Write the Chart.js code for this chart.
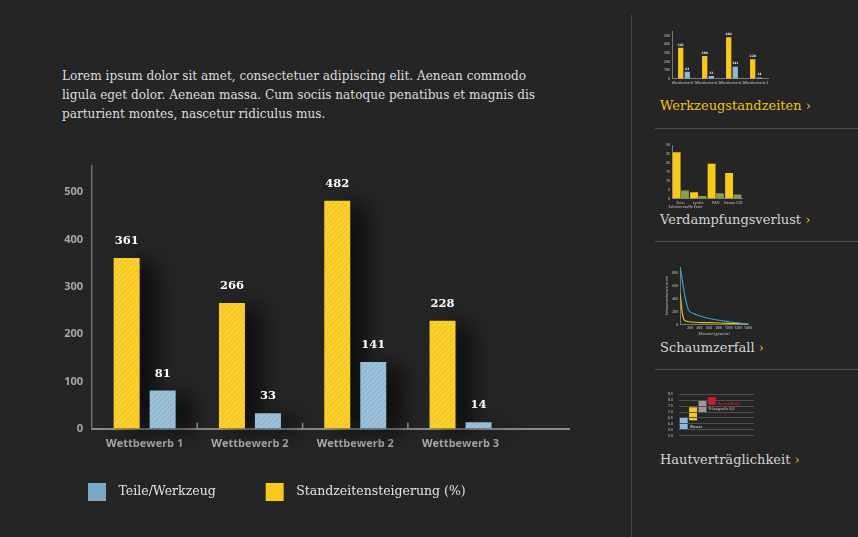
<!DOCTYPE html>
<html>
<head>
<meta charset="utf-8">
<script src="https://cdn.jsdelivr.net/npm/chart.js@4.4.0/dist/chart.umd.min.js"></script>
<style>
body { margin: 0; background: #252525; width: 858px; height: 537px; overflow: hidden; position: relative; font-family: "DejaVu Serif", serif; color: #dcdcdc; }
#intro { position: absolute; left: 62px; top: 67px; width: 520px; margin: 0; font-size: 12.1px; line-height: 19px; }
#main { position: absolute; left: 34px; top: 150px; width: 560px; height: 361px; }
.side { position: absolute; left: 631px; top: 15px; bottom: 0; border-left: 1px solid #474747; }
.sep { position: absolute; left: 655px; width: 203px; border-top: 1px solid #4f4f4f; }
.ttl { position: absolute; left: 660px; font-size: 13px; color: #d4d4d4; white-space: nowrap; }
.ttl b { color: #f0c419; font-weight: normal; }
.ttl.on { color: #ecc41c; }
.thumb { position: absolute; }
</style>
</head>
<body>
<p id="intro">Lorem ipsum dolor sit amet, consectetuer adipiscing elit. Aenean commodo<br>ligula eget dolor. Aenean massa. Cum sociis natoque penatibus et magnis dis<br>parturient montes, nascetur ridiculus mus.</p>
<div id="main"><canvas id="chartMain"></canvas></div>

<div class="side"></div>
<div class="thumb" style="left:660px;top:25px;width:116px;height:62px"><canvas id="thumb1"></canvas></div>
<div class="ttl on" style="top:98px">Werkzeugstandzeiten <b>›</b></div>
<div class="sep" style="top:128px"></div>
<div class="thumb" style="left:662px;top:141px;width:92px;height:70px"><canvas id="thumb2"></canvas></div>
<div class="ttl" style="top:212px">Verdampfungsverlust <b>›</b></div>
<div class="sep" style="top:241px"></div>
<div class="thumb" style="left:664px;top:259px;width:90px;height:78px"><canvas id="thumb3"></canvas></div>
<div class="ttl" style="top:340px">Schaumzerfall <b>›</b></div>
<div class="sep" style="top:369px"></div>
<div class="thumb" style="left:660px;top:386px;width:96px;height:58px"><canvas id="thumb4"></canvas></div>
<div class="ttl" style="top:452px">Hautverträglichkeit <b>›</b></div>

<script>
// Hauptdiagramm
const cats = ['Wettbewerb 1', 'Wettbewerb 2', 'Wettbewerb 2', 'Wettbewerb 3'];
const standzeit = [361, 266, 482, 228];
const teile = [81, 33, 141, 14];
const yTicks = [0, 100, 200, 300, 400, 500];

// Vorschau Verdampfungsverlust
const verdCats = [['Ecto-', 'Schmierstoffe'], ['synth.', 'Ester'], 'PAO', 'Hexan C05'];
const verdGelb = [26, 3.6, 19.5, 14.3];
const verdGruen = [4.5, 1.4, 3, 2.3];

// Vorschau Schaumzerfall
const schaumXBlau = [0, 170, 350, 600, 1000, 1400];
const schaumBlau = [900, 230, 150, 95, 45, 10];
const schaumXGelb = [0, 70, 170, 600, 1000, 1400];
const schaumGelb = [480, 90, 45, 30, 20, 8];

// Vorschau Hautverträglichkeit (pH-Bereiche)
const hautCats = ['Wasser', 'Creme', 'Seife', 'Lauge', '', '', '', ''];
const hautBereich = [[5.5, 6.5], [6.3, 7.4], [7.0, 8.0], [7.6, 8.25]];
const hautText = ['Wasser', '', 'Flüssigseife 8,0', 'Kernseife 8,5'];
const hautFarben = ['#8cbbe0', '#f5c81c', '#9a9a9a', '#d0182c'];

const gelb = '#f8c81c', blau = '#90b8d2', gruen = '#86a04a';
const sansBold = { family: 'Open Sans', weight: 'bold' };

function stripes(base, line) {
  const c = document.createElement('canvas');
  c.width = c.height = 5;
  const g = c.getContext('2d');
  g.fillStyle = base;
  g.fillRect(0, 0, 5, 5);
  g.strokeStyle = line;
  g.lineWidth = 1.1;
  g.beginPath();
  g.moveTo(0, 5); g.lineTo(5, 0);
  g.moveTo(-1, 1); g.lineTo(1, -1);
  g.moveTo(4, 6); g.lineTo(6, 4);
  g.stroke();
  return g.createPattern(c, 'repeat');
}

// Schatten zuerst fuer alle Balken, damit kein Schatten auf einem Nachbarbalken liegt
const barShadow = {
  id: 'barShadow',
  beforeDatasetsDraw(chart) {
    const c = chart.ctx;
    c.save();
    c.shadowColor = 'rgba(0,0,0,0.75)';
    c.shadowBlur = 22;
    c.shadowOffsetX = 16;
    c.shadowOffsetY = 4;
    c.fillStyle = '#1c1c1c';
    chart.data.datasets.forEach((ds, i) => {
      chart.getDatasetMeta(i).data.forEach(bar => {
        c.fillRect(bar.x - bar.width / 2 + 1, bar.y + 1, bar.width - 2, bar.base - bar.y - 1);
      });
    });
    c.restore();
  }
};

const valueLabels = {
  id: 'valueLabels',
  afterDatasetsDraw(chart, args, opts) {
    const c = chart.ctx;
    c.save();
    c.font = 'bold ' + opts.size + 'px "DejaVu Serif"';
    c.fillStyle = '#fff';
    c.textAlign = 'center';
    c.textBaseline = 'bottom';
    chart.data.datasets.forEach((ds, i) => {
      chart.getDatasetMeta(i).data.forEach((bar, j) => {
        const v = ds.data[j];
        c.fillText(typeof v === 'object' ? v.y : v, bar.x, bar.y - opts.gap);
      });
    });
    c.restore();
  }
};

const catTicks = {
  id: 'catTicks',
  afterDraw(chart) {
    const x = chart.scales.x, c = chart.ctx;
    c.save();
    c.strokeStyle = '#8a8a8a';
    c.lineWidth = 1.5;
    for (let i = 1; i < cats.length; i++) {
      const px = x.getPixelForValue(i - 0.5);
      c.beginPath();
      c.moveTo(px, x.top - 6);
      c.lineTo(px, x.top);
      c.stroke();
    }
    c.restore();
  }
};

const solid = [gelb, '#7ba7c9'];
// Abstand vor dem Text und hinter dem ersten Legendeneintrag
const legendGap = ['', '\u2003\u2003'];

new Chart(document.getElementById('chartMain'), {
  type: 'bar',
  data: {
    datasets: [{
      label: 'Standzeitensteigerung (%)',
      data: cats.map((c, i) => ({ x: i, y: standzeit[i] })),
      backgroundColor: stripes(gelb, '#fbd64c'),
      categoryPercentage: 0.684,
      barPercentage: 0.722
    }, {
      label: 'Teile/Werkzeug',
      data: cats.map((c, i) => ({ x: i, y: teile[i] })),
      backgroundColor: stripes(blau, '#a8c9df'),
      categoryPercentage: 0.684,
      barPercentage: 0.722
    }]
  },
  options: {
    responsive: true,
    maintainAspectRatio: false,
    animation: false,
    layout: { padding: { left: 29, right: 25, top: 11, bottom: 0 } },
    scales: {
      x: {
        type: 'linear',
        min: -0.5,
        max: cats.length - 0.5 + 0.53,
        offset: false,
        afterBuildTicks: s => { s.ticks = cats.map((c, i) => ({ value: i })); },
        grid: { display: false, drawTicks: false },
        border: { color: '#8a8a8a', width: 2 },
        ticks: {
          autoSkip: false, maxRotation: 0, padding: 8,
          color: '#ababab', font: { ...sansBold, size: 11 },
          callback: v => cats[v]
        }
      },
      y: {
        min: 0,
        max: 556,
        afterBuildTicks: s => { s.ticks = yTicks.map(v => ({ value: v })); },
        afterFit: s => { s.width = 29; },
        grid: { display: false, drawTicks: false },
        border: { color: '#6e6e6e', width: 1.5 },
        ticks: { padding: 9, color: '#a8a8a8', font: { ...sansBold, size: 11 } }
      }
    },
    plugins: {
      tooltip: { enabled: false },
      valueLabels: { size: 11.5, gap: 11 },
      legend: {
        position: 'bottom',
        align: 'start',
        reverse: true,
        labels: {
          color: '#e4e4e4',
          font: { family: 'DejaVu Serif', size: 12.5 },
          boxWidth: 18,
          boxHeight: 18,
          padding: 25,
          generateLabels: chart => Chart.defaults.plugins.legend.labels.generateLabels(chart)
            .map(l => ({ ...l, text: '\u2002' + l.text + legendGap[l.datasetIndex], fillStyle: solid[l.datasetIndex], strokeStyle: solid[l.datasetIndex], lineWidth: 0 }))
        }
      }
    }
  },
  plugins: [barShadow, valueLabels, catTicks]
});

// kleine Vorschauen
const tiny = { family: 'Open Sans', weight: 'bold', size: 3.5 };
const tinyAxis = (extra) => Object.assign({
  grid: { display: false, drawTicks: false },
  border: { color: '#777', width: 1 },
  ticks: { color: '#999', font: tiny, padding: 2, autoSkip: false, maxRotation: 0 }
}, extra);

new Chart(document.getElementById('thumb1'), {
  type: 'bar',
  data: {
    labels: cats,
    datasets: [
      { data: standzeit, backgroundColor: gelb, categoryPercentage: 0.55, barPercentage: 0.8 },
      { data: teile, backgroundColor: blau, categoryPercentage: 0.55, barPercentage: 0.8 }
    ]
  },
  options: {
    responsive: true, maintainAspectRatio: false, animation: false,
    layout: { padding: { left: 2, right: 8, top: 6, bottom: 0 } },
    scales: {
      x: tinyAxis({}),
      y: tinyAxis({ min: 0, max: 556, afterBuildTicks: s => { s.ticks = yTicks.map(v => ({ value: v })); } })
    },
    plugins: { legend: { display: false }, tooltip: { enabled: false }, valueLabels: { size: 3, gap: 1.5 } }
  },
  plugins: [valueLabels]
});

new Chart(document.getElementById('thumb2'), {
  type: 'bar',
  data: {
    labels: verdCats,
    datasets: [
      { data: verdGelb, backgroundColor: gelb, categoryPercentage: 0.95, barPercentage: 0.95 },
      { data: verdGruen, backgroundColor: gruen, categoryPercentage: 0.95, barPercentage: 0.95 }
    ]
  },
  options: {
    responsive: true, maintainAspectRatio: false, animation: false,
    layout: { padding: { left: 2, right: 12, top: 2, bottom: 0 } },
    scales: {
      x: tinyAxis({}),
      y: tinyAxis({ min: 0, max: 30, ticks: { stepSize: 5, color: '#999', font: tiny, padding: 2 } })
    },
    plugins: { legend: { display: false }, tooltip: { enabled: false } }
  }
});

new Chart(document.getElementById('thumb3'), {
  type: 'line',
  data: {
    datasets: [
      { data: schaumXBlau.map((x, i) => ({ x, y: schaumBlau[i] })), borderColor: '#2aa7c9', borderWidth: 1.2, pointRadius: 0, tension: 0.35 },
      { data: schaumXGelb.map((x, i) => ({ x, y: schaumGelb[i] })), borderColor: '#e8c21c', borderWidth: 1.2, pointRadius: 0, tension: 0.35 }
    ]
  },
  options: {
    responsive: true, maintainAspectRatio: false, animation: false,
    layout: { padding: { left: 0, right: 6, top: 8, bottom: 0 } },
    scales: {
      x: tinyAxis({ type: 'linear', min: 0, max: 1400,
        ticks: { stepSize: 200, color: '#999', font: tiny, padding: 1, autoSkip: false, maxRotation: 0, callback: v => v ? v : '' },
        title: { display: true, text: 'Minuten (gesamt)', color: '#999', font: tiny, padding: 1 } }),
      y: tinyAxis({ min: 0, max: 900,
        ticks: { stepSize: 100, color: '#999', font: tiny, padding: 2 },
        title: { display: true, text: 'Schaumvolumen in ml', color: '#999', font: tiny, padding: 1 } })
    },
    plugins: { legend: { display: false }, tooltip: { enabled: false } }
  }
});

const hautLabels = {
  id: 'hautLabels',
  afterDatasetsDraw(chart) {
    const c = chart.ctx;
    c.save();
    c.font = 'bold 3.5px "Open Sans"';
    c.textBaseline = 'middle';
    chart.getDatasetMeta(0).data.forEach((bar, i) => {
      if (!hautText[i]) return;
      c.fillStyle = hautFarben[i];
      c.fillText(hautText[i], bar.x + bar.width / 2 + 2, (bar.y + bar.base) / 2 + 3);
    });
    c.restore();
  }
};

new Chart(document.getElementById('thumb4'), {
  type: 'bar',
  data: {
    labels: hautCats,
    datasets: [{ data: hautBereich, backgroundColor: hautFarben, categoryPercentage: 1, barPercentage: 0.85 }]
  },
  options: {
    responsive: true, maintainAspectRatio: false, animation: false,
    layout: { padding: { left: 2, right: 2, top: 3, bottom: 0 } },
    scales: {
      x: { display: false },
      y: {
        min: 5, max: 8.5,
        border: { display: false },
        grid: { color: '#505050', lineWidth: 1, z: 1, drawTicks: false },
        ticks: { stepSize: 0.5, color: '#999', font: tiny, padding: 6, callback: v => v.toFixed(1) }
      }
    },
    plugins: { legend: { display: false }, tooltip: { enabled: false } }
  },
  plugins: [hautLabels]
});
</script>
</body>
</html>
